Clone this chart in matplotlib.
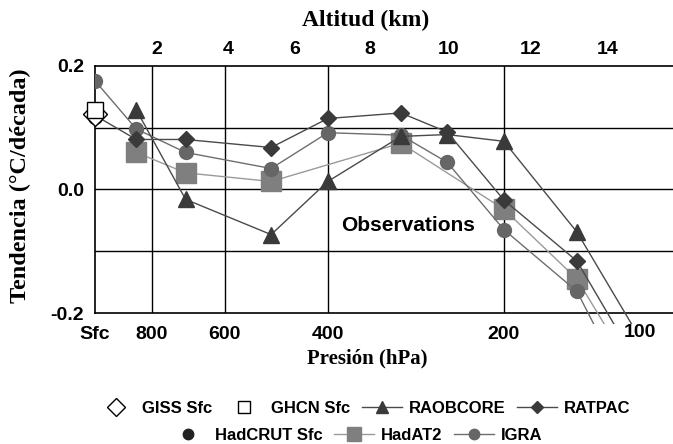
import matplotlib
matplotlib.use('Agg')
import matplotlib.pyplot as plt
from matplotlib.patches import Rectangle

# Niveles de presion (hPa) y tendencias (°C/decada) por conjunto de datos
raobcore_p = [850, 700, 500, 400, 300, 250, 200, 150, 100]
raobcore_v = [0.129, -0.016, -0.073, 0.013, 0.086, 0.089, 0.078, -0.069, -0.35]

ratpac_p = [1000, 850, 700, 500, 400, 300, 250, 200, 150, 100]
ratpac_v = [0.120, 0.081, 0.081, 0.068, 0.115, 0.124, 0.093, -0.017, -0.116, -0.40]

hadat2_p = [850, 700, 500, 300, 200, 150, 100]
hadat2_v = [0.060, 0.027, 0.013, 0.075, -0.032, -0.145, -0.42]

igra_p = [1000, 850, 700, 500, 400, 300, 250, 200, 150, 100]
igra_v = [0.176, 0.098, 0.060, 0.034, 0.092, 0.088, 0.044, -0.065, -0.165, -0.49]

# Tendencias de superficie
sfc_p = 1000
giss_sfc = 0.123
ghcn_sfc = 0.129
hadcrut_sfc = 0.118

# Ejes
p_ticks = [1000, 800, 600, 400, 200]
p_labels = ['Sfc', '800', '600', '400', '200']
p_grid = [800, 600, 400, 200]
y_ticks = [0.2, 0.0, -0.2]
y_labels = ['0.2', '0.0', '-0.2']
y_grid = [0.1, 0.0, -0.1]
# posiciones (en hPa) donde aparecen las etiquetas de altitud en la figura
alt_pos = [783, 592, 455, 339, 249, 180, 133]
alt_labels = ['2', '4', '6', '8', '10', '12', '14']

sans = 'Liberation Sans'
serif = 'Liberation Serif'

fig = plt.figure(figsize=(6.73, 4.44), dpi=100)
ax = fig.add_axes([95 / 673, 131 / 444, 585 / 673, 247 / 444])
ax.set_xscale('log')
ax.set_xlim(1000, 100)
ax.set_ylim(-0.2, 0.2)

for p in p_grid:
    ax.axvline(p, color='black', lw=1.0, zorder=1)
for v in y_grid:
    ax.axhline(v, color='black', lw=1.0, zorder=1)

# recorte un poco por debajo del eje, como en el original
clip = Rectangle((0, -0.045), 1.2, 1.045, transform=ax.transAxes)

dark = '#3a3a3a'
l1, = ax.plot(raobcore_p, raobcore_v, color='#4a4a4a', lw=1.0, marker='^',
              ms=11, mfc=dark, mec=dark, label='RAOBCORE', zorder=4)
l2, = ax.plot(ratpac_p, ratpac_v, color='#4a4a4a', lw=1.0, marker='D',
              ms=8.5, mfc=dark, mec=dark, label='RATPAC', zorder=4)
l3, = ax.plot(hadat2_p, hadat2_v, color='#9a9a9a', lw=1.0, marker='s',
              ms=14, mfc='#7f7f7f', mec='#7f7f7f', label='HadAT2', zorder=3)
l4, = ax.plot(igra_p, igra_v, color='#6e6e6e', lw=1.0, marker='o',
              ms=10, mfc='#666666', mec='#666666', label='IGRA', zorder=3)
for ln in (l1, l2, l3, l4):
    ln.set_clip_path(clip)

h_hadcrut, = ax.plot([sfc_p], [hadcrut_sfc], ls='none', marker='o', ms=10,
                     mfc='#222222', mec='#222222', label='HadCRUT Sfc',
                     zorder=5, clip_on=False)
h_giss, = ax.plot([sfc_p], [giss_sfc], ls='none', marker='D', ms=12,
                  mfc='white', mec='black', mew=1.0, label='GISS Sfc',
                  zorder=6, clip_on=False)
h_ghcn, = ax.plot([sfc_p], [ghcn_sfc], ls='none', marker='s', ms=12,
                  mfc='white', mec='black', mew=1.0, label='GHCN Sfc',
                  zorder=7, clip_on=False)

ax.text(292, -0.058, 'Observations', fontsize=15, fontweight='bold',
        family=sans, ha='center', va='center')

# ejes
ax.spines['right'].set_visible(False)
for s in ('left', 'bottom', 'top'):
    ax.spines[s].set_linewidth(1.2)
ax.set_xticks(p_ticks)
ax.set_xticklabels(p_labels)
ax.xaxis.set_minor_locator(matplotlib.ticker.NullLocator())
ax.set_yticks(y_ticks)
ax.set_yticklabels(y_labels)
ax.tick_params(length=0, labelsize=14)
ax.tick_params(axis='x', pad=9)
ax.tick_params(axis='y', pad=8)
for t in ax.get_xticklabels() + ax.get_yticklabels():
    t.set_fontweight('bold')
    t.set_family(sans)
# la etiqueta "100" queda dentro de la figura en el original
ax.text(117, -0.077, '100', transform=ax.get_xaxis_transform(), fontsize=14,
        fontweight='bold', family=sans, ha='center', va='center')

ax.set_xlabel('Presión (hPa)', fontsize=15, fontweight='bold', family=serif)
ax.xaxis.set_label_coords((367 - 95) / 585, -0.145)
ax.set_ylabel('Tendencia (°C/década)', fontsize=17.5, fontweight='bold',
              family=serif)
ax.yaxis.set_label_coords(-(95 - 31) / 585, 0.514)

# eje de altitud
top = ax.twiny()
top.set_xscale('log')
top.set_xlim(ax.get_xlim())
top.set_xticks(alt_pos)
top.set_xticklabels(alt_labels)
top.xaxis.set_minor_locator(matplotlib.ticker.NullLocator())
top.tick_params(length=0, labelsize=14, pad=6)
for t in top.get_xticklabels():
    t.set_fontweight('bold')
    t.set_family(sans)
for s in top.spines.values():
    s.set_visible(False)
top.set_xlabel('Altitud (km)', fontsize=17, fontweight='bold', family=serif)
top.xaxis.set_label_coords((366 - 95) / 585, 1.163)

# leyenda en dos filas
leg_kw = dict(frameon=False, prop={'family': sans, 'weight': 'bold', 'size': 12},
              handlelength=2.4, handletextpad=0.4, columnspacing=0.7,
              borderaxespad=0, borderpad=0, markerscale=0.75)
fig.legend(handles=[h_giss, h_ghcn, l1, l2], ncol=4, loc='center',
           bbox_to_anchor=(363 / 673, 1 - 408 / 444), **leg_kw)
fig.legend(handles=[h_hadcrut, l3, l4], ncol=3, loc='center',
           bbox_to_anchor=(355 / 673, 1 - 435 / 444), **leg_kw)

fig.savefig('out.png', dpi=100)
